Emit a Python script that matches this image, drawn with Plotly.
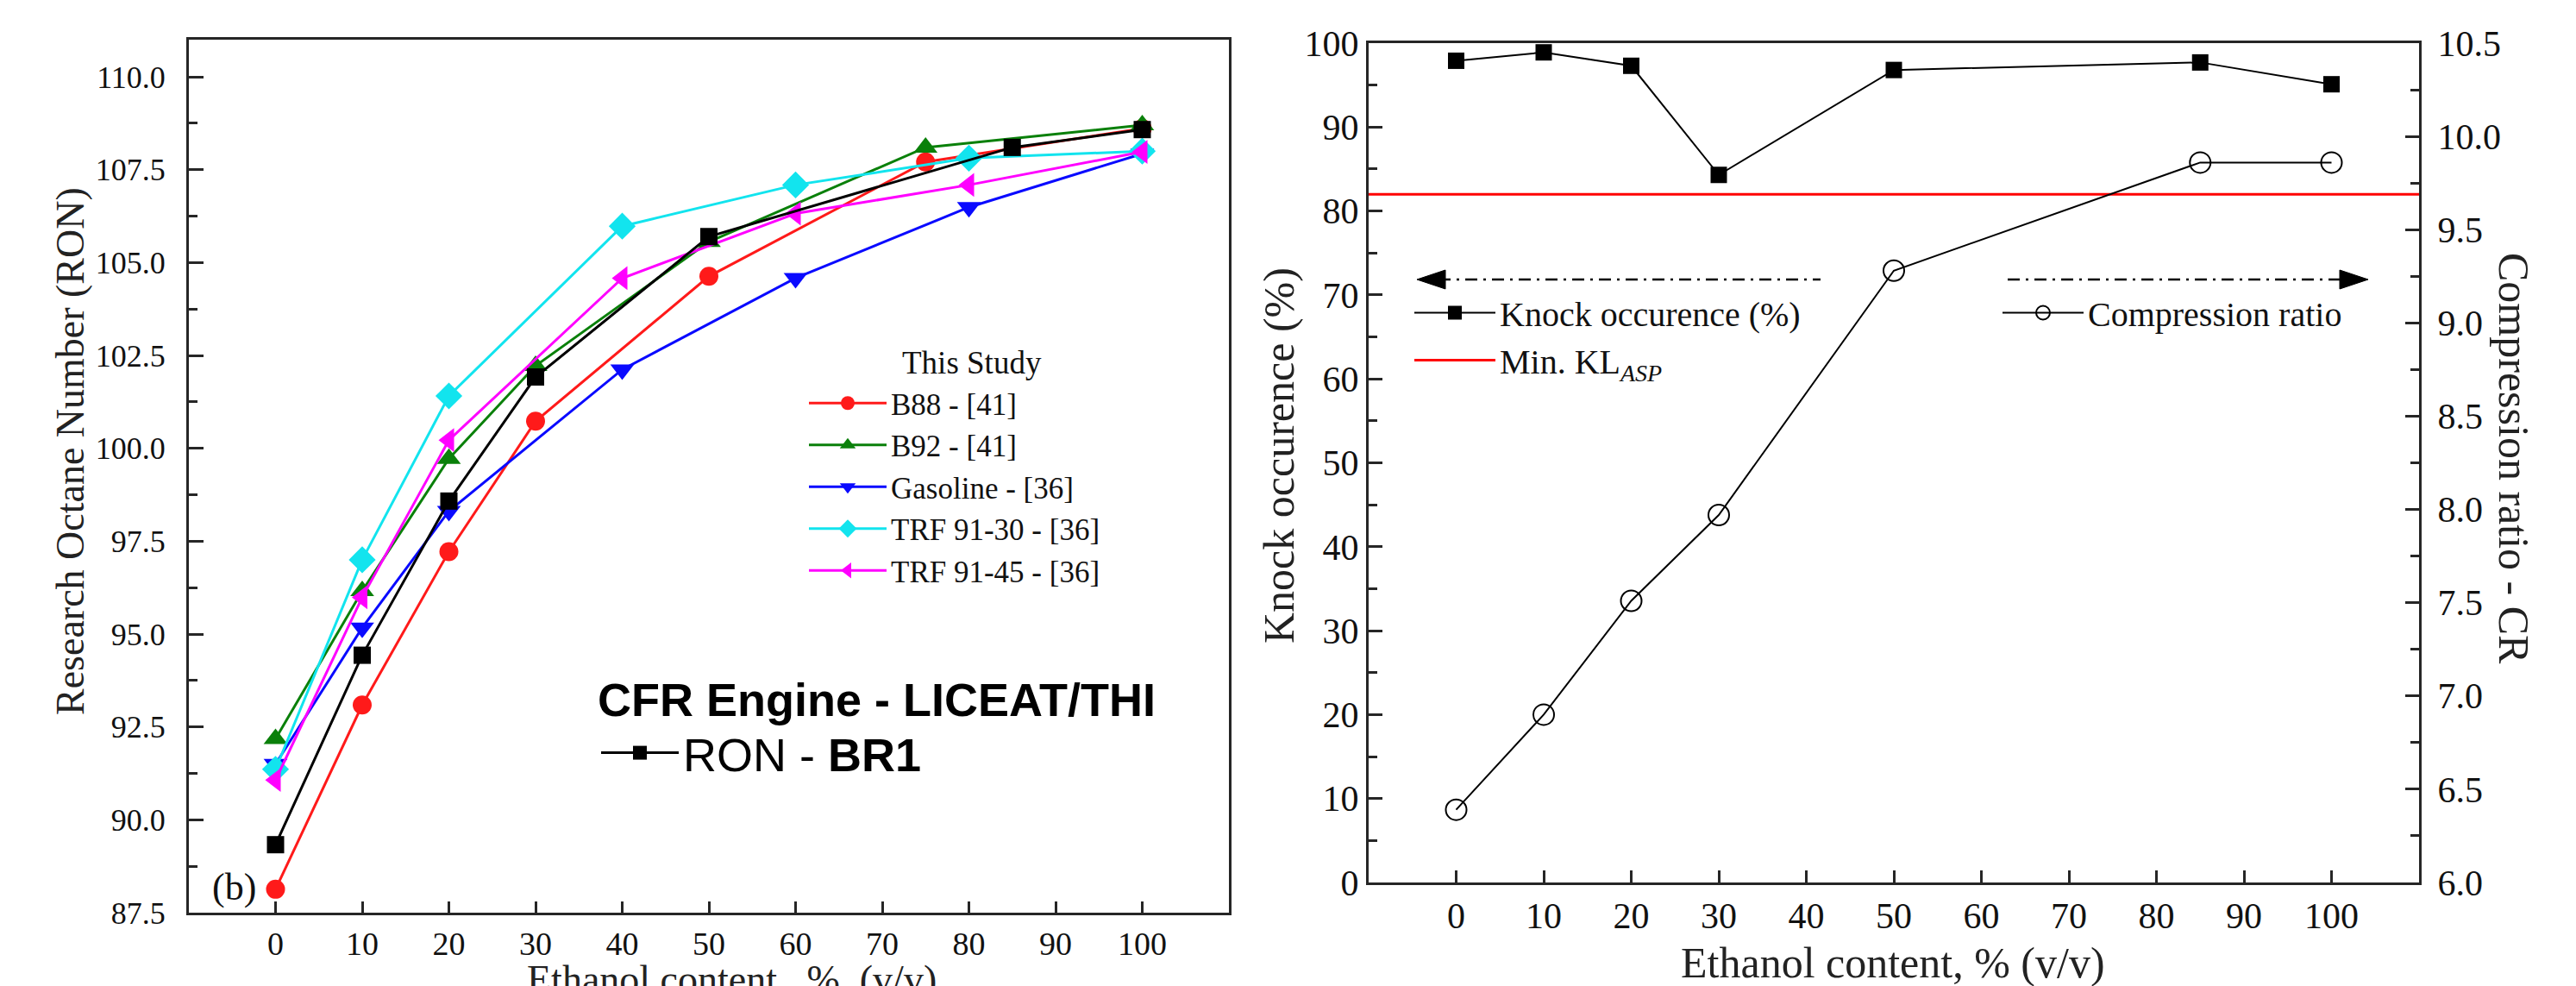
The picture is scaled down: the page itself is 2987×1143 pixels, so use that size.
import plotly.graph_objects as go

W, H = 2987, 1143

# ---------------- data (left panel) ----------------
ethanol_b = [0, 10, 20, 30, 50, 75, 100]          # B88 / B92 - [41]
b88 = [88.13, 93.09, 97.22, 100.73, 104.63, 107.71, 108.61]
b92 = [92.18, 96.16, 99.72, 102.22, 105.56, 108.10, 108.70]
ethanol_trf = [0, 10, 20, 40, 60, 80, 100]        # Gasoline / TRF - [36]
gasoline = [91.50, 95.17, 98.31, 102.12, 104.58, 106.49, 107.93]
trf_91_30 = [91.36, 97.00, 101.41, 105.98, 107.09, 107.81, 108.00]
trf_91_45 = [91.07, 95.99, 100.22, 104.58, 106.32, 107.09, 107.98]
ethanol_br1 = [0, 10, 20, 30, 50, 85, 100]        # This study
ron_br1 = [89.33, 94.43, 98.58, 101.92, 105.70, 108.10, 108.58]

# ---------------- data (right panel) ----------------
knock = [97.9, 98.9, 97.3, 84.3, 96.8, 97.7, 95.1]
compression = [6.39, 6.90, 7.51, 7.97, 9.28, 9.86, 9.86]
min_kl = 82.0
x_range = [-10, 110]
x_ticks = [0, 10, 20, 30, 40, 50, 60, 70, 80, 90, 100]


def px(x):
    return x / W


def py(y):
    return 1 - y / H


SERIF = "Liberation Serif"
SANS = "Liberation Sans"

fig = go.Figure()

left_series = [
    ("B88 - [41]", ethanol_b, b88, "#FF1A1A", "circle", 22),
    ("B92 - [41]", ethanol_b, b92, "#0A800A", "triangle-up", 24),
    ("Gasoline - [36]", ethanol_trf, gasoline, "#0A0AFF", "triangle-down", 24),
    ("TRF 91-30 - [36]", ethanol_trf, trf_91_30, "#12E4EE", "diamond", 24),
    ("TRF 91-45 - [36]", ethanol_trf, trf_91_45, "#FF00FF", "triangle-left", 24),
]
for name, xs, ys, col, sym, sz in left_series:
    fig.add_trace(go.Scatter(
        x=xs, y=ys, name=name, mode="lines+markers",
        line=dict(color=col, width=3),
        marker=dict(symbol=sym, size=sz, color=col),
        xaxis="x", yaxis="y", legend="legend"))

fig.add_trace(go.Scatter(
    x=ethanol_br1, y=ron_br1, name="RON - <b>BR1</b>", mode="lines+markers",
    line=dict(color="black", width=3),
    marker=dict(symbol="square", size=20, color="black"),
    xaxis="x", yaxis="y", legend="legend2"))

# right panel
fig.add_trace(go.Scatter(
    x=ethanol_br1, y=knock, name="Knock occurence (%)", mode="lines+markers",
    line=dict(color="black", width=2),
    marker=dict(symbol="square", size=19, color="black"),
    xaxis="x2", yaxis="y2", legend="legend3"))
fig.add_trace(go.Scatter(
    x=x_range, y=[min_kl, min_kl], name="Min. KL<sub><i>ASP</i></sub>", mode="lines",
    line=dict(color="#FF0000", width=3),
    xaxis="x2", yaxis="y2", legend="legend3"))
fig.add_trace(go.Scatter(
    x=ethanol_br1, y=compression, name="Compression ratio", mode="lines+markers",
    line=dict(color="black", width=2),
    marker=dict(symbol="circle-open", size=24, color="black", line=dict(width=2)),
    xaxis="x2", yaxis="y3", legend="legend4"))

axis_common = dict(showline=True, linewidth=3, linecolor="#262626", showgrid=False,
                   zeroline=False, ticks="inside", tickwidth=3, tickcolor="#262626",
                   automargin=False)

fig.update_layout(
    width=W, height=H,
    margin=dict(l=0, r=0, t=0, b=0),
    paper_bgcolor="white", plot_bgcolor="white",
    font=dict(family=SERIF, color="black"),
    xaxis=dict(domain=[px(211), px(1417)], range=x_range, tickvals=x_ticks,
               ticklen=13, mirror=True, anchor="y",
               tickfont=dict(family=SERIF, size=38, color="#111"),
               ticklabelstandoff=0, **axis_common),
    yaxis=dict(domain=[py(1050), py(38)], range=[87.5, 111.0], tick0=87.5, dtick=2.5,
               tickformat=".1f", ticklen=17, mirror=True, anchor="x",
               minor=dict(dtick=1.25, tick0=87.5, ticks="inside", ticklen=10,
                          tickwidth=3, tickcolor="#262626"),
               tickfont=dict(family=SERIF, size=36, color="#111"),
               ticklabelstandoff=17, **axis_common),
    xaxis2=dict(domain=[px(1579), px(2797)], range=x_range, tickvals=x_ticks,
                ticklen=14, mirror=True, anchor="y2",
                tickfont=dict(family=SERIF, size=42, color="#111"),
                ticklabelstandoff=0, **axis_common),
    yaxis2=dict(domain=[py(1015), py(42)], range=[0, 100], tick0=0, dtick=10,
                ticklen=16, anchor="x2",
                minor=dict(dtick=5, tick0=0, ticks="inside", ticklen=10,
                           tickwidth=3, tickcolor="#262626"),
                tickfont=dict(family=SERIF, size=42, color="#111"),
                ticklabelstandoff=0, **axis_common),
    yaxis3=dict(range=[6.0, 10.5], tick0=6.0, dtick=0.5, tickformat=".1f",
                overlaying="y2", side="right", anchor="x2", ticklen=16,
                minor=dict(dtick=0.25, tick0=6.0, ticks="inside", ticklen=10,
                           tickwidth=3, tickcolor="#262626"),
                tickfont=dict(family=SERIF, size=42, color="#111"),
                ticklabelstandoff=10, **axis_common),
    legend=dict(x=px(925), y=py(430), xanchor="left", yanchor="top",
                font=dict(family=SERIF, size=35, color="#111"),
                bgcolor="rgba(0,0,0,0)", itemwidth=90, tracegroupgap=0),
    legend2=dict(x=px(684), y=py(823), xanchor="left", yanchor="top",
                 font=dict(family=SANS, size=54, color="black"),
                 bgcolor="rgba(0,0,0,0)", itemwidth=90),
    legend3=dict(x=px(1627), y=py(322), xanchor="left", yanchor="top",
                 font=dict(family=SERIF, size=40, color="#111"),
                 bgcolor="rgba(0,0,0,0)", itemwidth=94),
    legend4=dict(x=px(2309), y=py(322), xanchor="left", yanchor="top",
                 font=dict(family=SERIF, size=40, color="#111"),
                 bgcolor="rgba(0,0,0,0)", itemwidth=94),
    showlegend=True,
)

ann = []
# axis titles
ann.append(dict(text="Research Octane Number (RON)", x=px(73), y=py(515), textangle=-90,
                font=dict(family=SERIF, size=46, color="#222")))
ann.append(dict(text="Ethanol content , %  (v/v)", x=px(840), y=py(1127),
                font=dict(family=SERIF, size=46, color="#222")))
ann.append(dict(text="Knock occurence (%)", x=px(1475), y=py(520), textangle=-90,
                font=dict(family=SERIF, size=50, color="#222")))
ann.append(dict(text="Compression ratio - CR", x=px(2907), y=py(523), textangle=90,
                font=dict(family=SERIF, size=50, color="#222")))
ann.append(dict(text="Ethanol content, % (v/v)", x=px(2187), y=py(1108),
                font=dict(family=SERIF, size=50, color="#222")))
# panel text
ann.append(dict(text="This Study", x=px(1036), y=py(412), xanchor="left",
                font=dict(family=SERIF, size=37, color="#111")))
ann.append(dict(text="<b>CFR Engine - LICEAT/THI</b>", x=px(683), y=py(803), xanchor="left",
                font=dict(family=SANS, size=54, color="black")))
ann.append(dict(text="(b)", x=px(263), y=py(1020),
                font=dict(family=SERIF, size=44, color="#111")))
for a in ann:
    a.setdefault("xanchor", "center")
    a.setdefault("yanchor", "middle")
    a.update(xref="paper", yref="paper", showarrow=False)
fig.update_layout(annotations=ann)

# direction arrows (which axis each series belongs to)
dash_style = "14px,7px,3px,7px"
fig.add_shape(type="line", xref="paper", yref="paper", x0=px(1660), x1=px(2103),
              y0=py(316), y1=py(316), line=dict(color="black", width=2.5, dash=dash_style))
fig.add_shape(type="line", xref="paper", yref="paper", x0=px(2320), x1=px(2712),
              y0=py(316), y1=py(316), line=dict(color="black", width=2.5, dash=dash_style))
tri_l = "M{},{} L{},{} L{},{} Z".format(px(1635), py(316), px(1668), py(305),
                                        px(1668), py(327))
tri_r = "M{},{} L{},{} L{},{} Z".format(px(2738), py(316), px(2705), py(305),
                                        px(2705), py(327))
for p in (tri_l, tri_r):
    fig.add_shape(type="path", xref="paper", yref="paper", path=p,
                  fillcolor="black", line=dict(color="black", width=1))

fig.write_html("out.html")
